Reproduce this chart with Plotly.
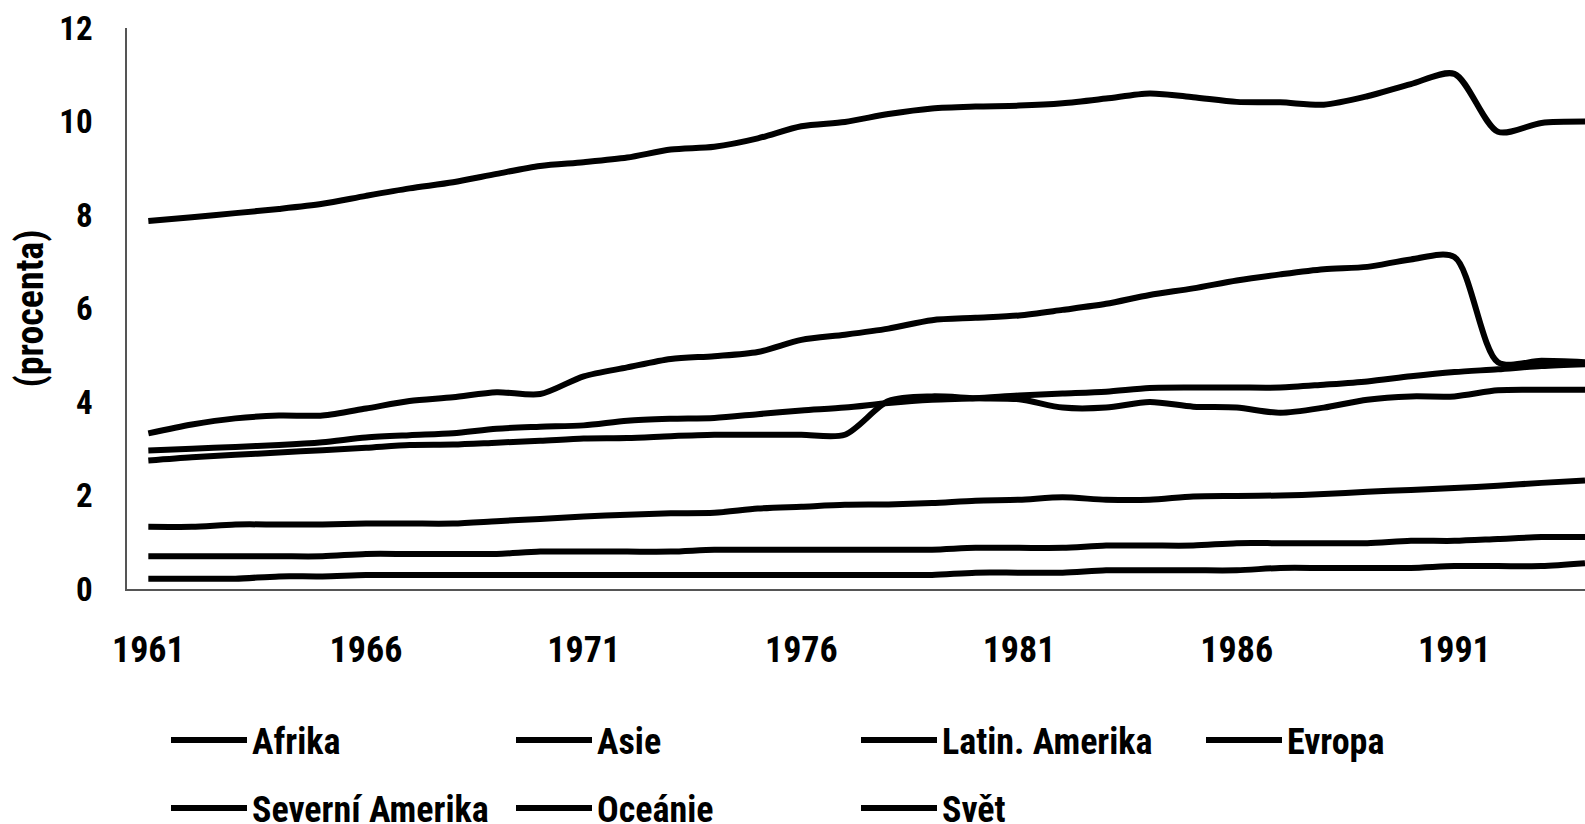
import plotly.graph_objects as go

years = list(range(1961, 1995))

afrika = [1.33, 1.33, 1.38, 1.38, 1.38, 1.40, 1.40, 1.40, 1.45, 1.50,
          1.55, 1.59, 1.62, 1.63, 1.72, 1.76, 1.80, 1.81, 1.84, 1.89,
          1.91, 1.96, 1.91, 1.91, 1.98, 1.99, 2.00, 2.03, 2.08, 2.12,
          2.16, 2.21, 2.27, 2.32]
asie = [3.33, 3.52, 3.65, 3.71, 3.71, 3.86, 4.02, 4.10, 4.21, 4.17,
        4.55, 4.74, 4.92, 4.98, 5.07, 5.33, 5.44, 5.57, 5.75, 5.80,
        5.85, 5.97, 6.10, 6.29, 6.43, 6.60, 6.73, 6.84, 6.89, 7.05,
        7.10, 4.85, 4.88, 4.85]
latin_amerika = [2.75, 2.82, 2.87, 2.92, 2.97, 3.02, 3.08, 3.09, 3.13, 3.17,
                 3.22, 3.23, 3.27, 3.30, 3.30, 3.30, 3.30, 4.02, 4.12, 4.08,
                 4.06, 3.88, 3.88, 4.00, 3.90, 3.88, 3.77, 3.88, 4.05, 4.12,
                 4.12, 4.25, 4.26, 4.26]
evropa = [7.87, 7.95, 8.04, 8.13, 8.24, 8.41, 8.57, 8.70, 8.88, 9.05,
          9.13, 9.23, 9.40, 9.46, 9.64, 9.90, 9.99, 10.16, 10.28, 10.32,
          10.34, 10.39, 10.49, 10.60, 10.52, 10.42, 10.41, 10.36, 10.54, 10.80,
          11.02, 9.78, 9.97, 10.00]
severni_amerika = [0.22, 0.22, 0.22, 0.27, 0.27, 0.30, 0.30, 0.30, 0.30, 0.30,
                   0.30, 0.30, 0.30, 0.30, 0.30, 0.30, 0.30, 0.30, 0.30, 0.35,
                   0.35, 0.35, 0.40, 0.40, 0.40, 0.40, 0.45, 0.45, 0.45, 0.45,
                   0.49, 0.49, 0.49, 0.55]
oceanie = [0.70, 0.70, 0.70, 0.70, 0.70, 0.75, 0.75, 0.75, 0.75, 0.80,
           0.80, 0.80, 0.80, 0.84, 0.84, 0.84, 0.84, 0.84, 0.84, 0.88,
           0.88, 0.88, 0.93, 0.93, 0.93, 0.98, 0.98, 0.98, 0.98, 1.03,
           1.03, 1.07, 1.11, 1.11]
svet = [2.96, 3.00, 3.04, 3.08, 3.14, 3.24, 3.29, 3.33, 3.43, 3.47,
        3.50, 3.60, 3.64, 3.66, 3.74, 3.82, 3.88, 3.98, 4.05, 4.08,
        4.14, 4.18, 4.22, 4.30, 4.31, 4.31, 4.31, 4.37, 4.44, 4.55,
        4.64, 4.70, 4.77, 4.81]

x_tick_years = [1961, 1966, 1971, 1976, 1981, 1986, 1991]
x_tick_labels = ["1961", "1966", "1971", "1976", "1981", "1986", "1991"]
y_ticks = [0, 2, 4, 6, 8, 10, 12]
y_title = "(procenta)"

FONT = "Liberation Sans Narrow, Arial Narrow, Roboto Condensed, Liberation Sans, sans-serif"

series = [
    ("Afrika", afrika, "legend"),
    ("Asie", asie, "legend"),
    ("Latin. Amerika", latin_amerika, "legend"),
    ("Evropa", evropa, "legend"),
    ("Severní Amerika", severni_amerika, "legend2"),
    ("Oceánie", oceanie, "legend2"),
    ("Svět", svet, "legend2"),
]

fig = go.Figure()
for name, vals, lg in series:
    fig.add_trace(go.Scatter(
        x=years, y=vals, name=name, mode="lines", legend=lg,
        line=dict(color="black", width=6, shape="spline", smoothing=0.8),
    ))

legend_common = dict(
    orientation="h", entrywidth=254, entrywidthmode="pixels", itemwidth=76,
    font=dict(family=FONT, size=36, color="black", weight="bold"),
    xref="container", yref="container", xanchor="left", yanchor="middle",
    bgcolor="rgba(0,0,0,0)", traceorder="normal",
)

tick_font = dict(family=FONT, size=36, color="black", weight="bold")

fig.update_layout(
    width=1585, height=824,
    margin=dict(l=127, r=0, t=28, b=235, autoexpand=False),
    plot_bgcolor="white", paper_bgcolor="white",
    showlegend=True,
    legend=dict(**legend_common, x=166 / 1585, y=1 - 740 / 824),
    legend2=dict(**legend_common, x=166 / 1585, y=1 - 808 / 824),
    xaxis=dict(
        range=[1960.51, 1994.0], tickvals=x_tick_years, ticktext=x_tick_labels,
        showgrid=False, zeroline=False, showline=True, linecolor="#555555", linewidth=2,
        ticks="", tickfont=tick_font, ticklabelstandoff=28, automargin=False,
    ),
    yaxis=dict(
        range=[0, 12], tickvals=y_ticks,
        showgrid=False, zeroline=False, showline=True, linecolor="#555555", linewidth=1.5,
        ticks="", tickfont=dict(family=FONT, size=33, color="black", weight="bold"),
        ticklabelstandoff=26, automargin=False,
        title=dict(text=y_title, font=dict(family=FONT, size=38, color="black", weight="bold"), standoff=4),
    ),
)

fig.write_html(
    "out.html",
    config={"displayModeBar": False},
    post_script="document.body.style.margin='0';document.body.style.overflow='hidden';",
)
